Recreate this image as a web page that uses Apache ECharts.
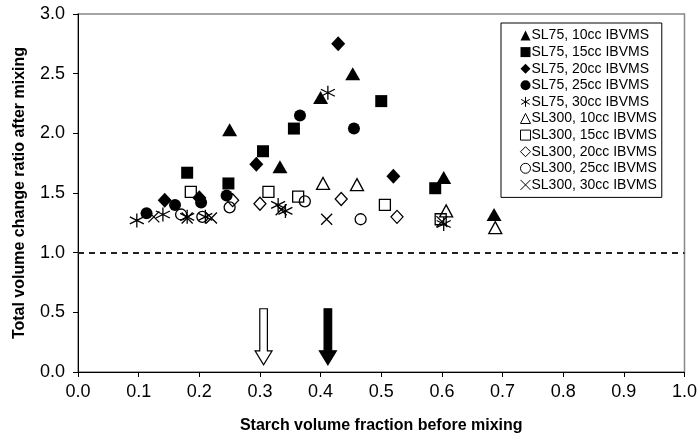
<!DOCTYPE html>
<html>
<head>
<meta charset="utf-8">
<script src="https://cdn.jsdelivr.net/npm/echarts@6/dist/echarts.min.js"></script>
<style>html,body{margin:0;padding:0;background:#fff}#c{width:700px;height:448px}</style>
</head>
<body>
<div id="c"></div>
<script>
// ---- data (x = starch volume fraction, y = total volume change ratio) ----
const xTicks = [0.0,0.1,0.2,0.3,0.4,0.5,0.6,0.7,0.8,0.9,1.0];
const yTicks = [0.0,0.5,1.0,1.5,2.0,2.5,3.0];
const seriesNames = ["SL75, 10cc IBVMS","SL75, 15cc IBVMS","SL75, 20cc IBVMS","SL75, 25cc IBVMS","SL75, 30cc IBVMS",
  "SL300, 10cc IBVMS","SL300, 15cc IBVMS","SL300, 20cc IBVMS","SL300, 25cc IBVMS","SL300, 30cc IBVMS"];
const sl75_10 = [[0.25,2.03],[0.333,1.72],[0.40,2.30],[0.453,2.50],[0.603,1.63],[0.686,1.32]];
const sl75_15 = [[0.18,1.67],[0.248,1.58],[0.305,1.85],[0.356,2.04],[0.50,2.27],[0.589,1.54]];
const sl75_20 = [[0.143,1.44],[0.20,1.46],[0.294,1.74],[0.429,2.75],[0.52,1.64]];
const sl75_25 = [[0.113,1.33],[0.16,1.40],[0.203,1.42],[0.245,1.48],[0.366,2.15],[0.455,2.04]];
const sl75_30 = [[0.097,1.27],[0.14,1.32],[0.18,1.30],[0.21,1.30],[0.33,1.40],[0.342,1.35],[0.412,2.34],[0.603,1.24]];
const sl300_10 = [[0.404,1.58],[0.46,1.57],[0.607,1.35],[0.688,1.21]];
const sl300_15 = [[0.186,1.51],[0.314,1.51],[0.363,1.47],[0.506,1.40],[0.598,1.28]];
const sl300_20 = [[0.255,1.44],[0.30,1.41],[0.434,1.45],[0.526,1.30]];
const sl300_25 = [[0.17,1.32],[0.205,1.30],[0.25,1.38],[0.374,1.43],[0.466,1.28]];
const sl300_30 = [[0.125,1.30],[0.18,1.29],[0.22,1.29],[0.335,1.36],[0.41,1.28],[0.60,1.26]];
const refLineY = 1.0;
// arrows: [x, yTop, yTip, filled]
const arrows = [[0.306,0.53,0.06,0],[0.412,0.53,0.06,1]];

const seriesData = [sl75_10,sl75_15,sl75_20,sl75_25,sl75_30,sl300_10,sl300_15,sl300_20,sl300_25,sl300_30];
const ASTER = 'path://M5,0L5,10M0.7,2.5L9.3,7.5M0.7,7.5L9.3,2.5';
const CROSS = 'path://M0,0L10,10M0,10L10,0';
const styles = [
  {symbol:'triangle', size:[15,13], fill:'#000'},
  {symbol:'rect', size:12, fill:'#000'},
  {symbol:'diamond', size:[14,15], fill:'#000'},
  {symbol:'circle', size:12, fill:'#000'},
  {symbol:ASTER, size:14, fill:'none', line:true},
  {symbol:'triangle', size:[13,12], fill:'transparent'},
  {symbol:'rect', size:11, fill:'transparent'},
  {symbol:'diamond', size:[12,13], fill:'transparent'},
  {symbol:'circle', size:11, fill:'transparent'},
  {symbol:CROSS, size:11, fill:'none', line:true}
];

const FONT = 'Liberation Sans, Arial, sans-serif';
const chart = echarts.init(document.getElementById('c'), null, {renderer:'canvas'});

const series = seriesData.map((d,i)=>{
  const s = styles[i];
  return {
    name: seriesNames[i], type:'scatter', data:d, symbol:s.symbol, symbolSize:s.size,
    itemStyle:{color:s.fill, opacity:1, borderColor:'#000', borderWidth: s.line?1.3:(s.fill==='#000'?0:1.3)},
    emphasis:{disabled:true}, z:3
  };
});
series[0].markLine = {
  silent:true, symbol:['none','none'], label:{show:false},
  lineStyle:{color:'#222', width:2, type:[6,5]},
  data:[{yAxis:refLineY}]
};
series.push({
  type:'custom', name:'arrows', data:arrows, z:4,
  renderItem:function(params, api){
    const x = api.value(0), top = api.coord([x, api.value(1)]), tip = api.coord([x, api.value(2)]);
    const filled = api.value(3) === 1;
    const hw = 3.8, hh = 8.5, hl = 14;
    const cx = top[0];
    const pts = [[cx-hw, top[1]],[cx+hw, top[1]],[cx+hw, tip[1]-hl],[cx+hh, tip[1]-hl],[cx, tip[1]],
                 [cx-hh, tip[1]-hl],[cx-hw, tip[1]-hl]];
    return {type:'polygon', shape:{points:pts},
      style:{fill: filled?'#000':'#fff', stroke:'#000', lineWidth:1.2}};
  }
});

chart.setOption({
  animation:false,
  backgroundColor:'#fff',
  grid:{left:78, right:12, top:14, bottom:76, show:true, borderColor:'#888', borderWidth:1.5, backgroundColor:'transparent'},
  legend:{
    orient:'vertical', left:501, top:23, itemWidth:10, itemHeight:10, itemGap:1.6,
    padding:[5,5,5,17], borderColor:'#000', borderWidth:1, backgroundColor:'#fff',
    textStyle:{fontFamily:FONT, fontSize:14, lineHeight:15, color:'#000', padding:[0,0,0,-4]},
    data: seriesNames.map((n,i)=>({name:n, icon:styles[i].symbol,
      itemStyle:{color:styles[i].fill, opacity:1, borderColor:'#000', borderWidth:(styles[i].fill==='#000'?0:1)}})),
    selectedMode:false
  },
  xAxis:{
    type:'value', min:0, max:1, interval:0.1,
    name:'Starch volume fraction before mixing', nameLocation:'middle', nameGap:46,
    nameTextStyle:{fontFamily:FONT, fontSize:16, fontWeight:'bold', color:'#000'},
    axisLine:{show:true, lineStyle:{color:'#000', width:1}},
    axisTick:{show:true, inside:false, length:5, lineStyle:{color:'#000'}},
    axisLabel:{margin:11, fontFamily:FONT, fontSize:18, color:'#000', formatter:v=>v.toFixed(1), showMaxLabel:true},
    splitLine:{show:false}
  },
  yAxis:{
    type:'value', min:0, max:3, interval:0.5,
    name:'Total volume change ratio after mixing', nameLocation:'middle', nameGap:50, nameRotate:90,
    nameTextStyle:{fontFamily:FONT, fontSize:16, fontWeight:'bold', color:'#000'},
    axisLine:{show:true, lineStyle:{color:'#000', width:1}},
    axisTick:{show:true, inside:false, length:5, lineStyle:{color:'#000'}},
    axisLabel:{margin:13, fontFamily:FONT, fontSize:18, color:'#000', formatter:v=>v.toFixed(1)},
    splitLine:{show:false}
  },
  series: series
});
</script>
</body>
</html>
